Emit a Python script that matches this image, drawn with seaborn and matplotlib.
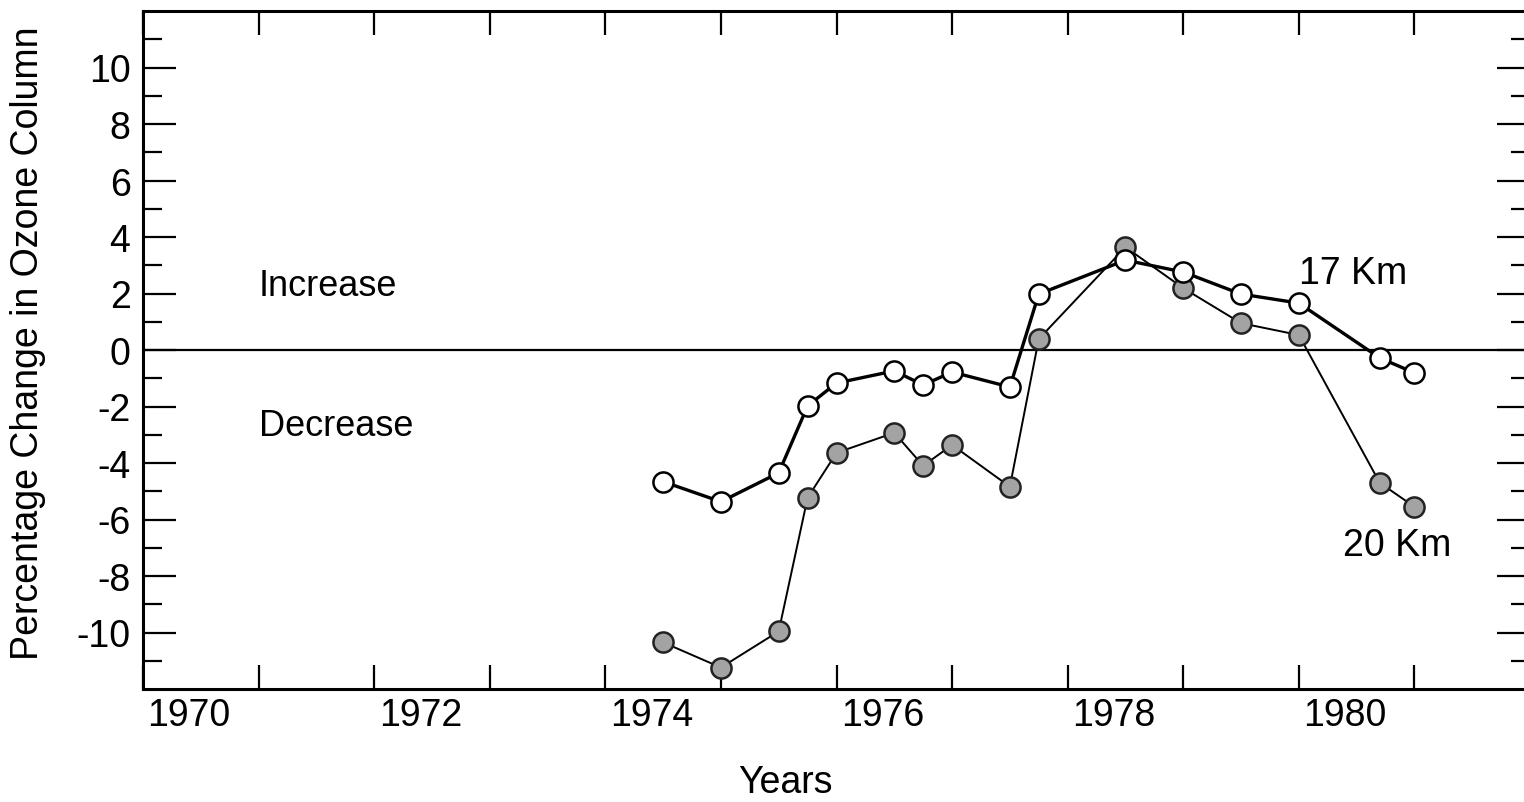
import numpy as np
import pandas as pd
import matplotlib
matplotlib.use("Agg")
import matplotlib.pyplot as plt
import seaborn as sns


# Sampling times (years) shared by both altitude series
YEARS = [1974.5, 1975.0, 1975.5, 1975.75, 1976.0, 1976.5, 1976.75, 1977.0,
         1977.5, 1977.75, 1978.5, 1979.0, 1979.5, 1980.0, 1980.7, 1981.0]

# Percentage change in ozone column, 17 km (open circles)
CHANGE_17KM = [-4.66, -5.37, -4.35, -1.98, -1.17, -0.74, -1.24, -0.78,
               -1.31, 1.98, 3.18, 2.76, 1.98, 1.66, -0.28, -0.81]

# Percentage change in ozone column, 20 km (filled circles)
CHANGE_20KM = [-10.35, -11.24, -9.96, -5.23, -3.64, -2.93, -4.10, -3.36,
               -4.84, 0.39, 3.64, 2.19, 0.95, 0.53, -4.70, -5.55]

YEAR_LABELS = [1970, 1972, 1974, 1976, 1978, 1980]
Y_LABELS = [-10, -8, -6, -4, -2, 0, 2, 4, 6, 8, 10]

FONT_SIZE = 27


def main():
    sns.set_style("ticks")
    plt.rcParams["font.family"] = ["Liberation Sans", "DejaVu Sans"]
    plt.rcParams["text.color"] = "black"
    plt.rcParams["xtick.color"] = "black"
    plt.rcParams["ytick.color"] = "black"
    plt.rcParams["axes.labelcolor"] = "black"

    df = pd.DataFrame({
        "year": YEARS,
        "17 Km": CHANGE_17KM,
        "20 Km": CHANGE_20KM,
    })

    fig = plt.figure(figsize=(15.24, 8.03), dpi=100)
    ax = fig.add_axes([143 / 1524, 113 / 803, 1387 / 1524, 678 / 803])

    ax.axhline(0, color="black", lw=1.6, zorder=1)

    # 20 km: stippled (grey) dots, thinner line
    sns.lineplot(data=df, x="year", y="20 Km", ax=ax, color="black", lw=1.4,
                 marker="o", markersize=14.5, markerfacecolor="#a3a3a3",
                 markeredgecolor="#222222", markeredgewidth=1.8, zorder=3)
    # 17 km: open circles
    sns.lineplot(data=df, x="year", y="17 Km", ax=ax, color="black", lw=2.4,
                 marker="o", markersize=14.5, markerfacecolor="white",
                 markeredgecolor="black", markeredgewidth=1.8, zorder=4)

    ax.set_xlim(1970, 1982)
    ax.set_ylim(-12, 12)

    # yearly ticks without labels, labels sit just right of their year tick
    ax.set_xticks(np.arange(1970, 1983, 1), minor=True)
    ax.set_xticks([y + 0.40 for y in YEAR_LABELS])
    ax.set_xticklabels([str(y) for y in YEAR_LABELS])
    ax.set_yticks(Y_LABELS)
    ax.set_yticklabels([f"{v:d}" for v in Y_LABELS])
    ax.set_yticks(np.arange(-11, 12, 2), minor=True)

    ax.tick_params(axis="x", which="major", length=0, pad=6,
                   labelsize=FONT_SIZE, top=False, bottom=False,
                   labelcolor="black")
    ax.tick_params(axis="x", which="minor", length=17, width=1.6,
                   direction="in", top=True, bottom=True, color="black")
    ax.tick_params(axis="y", which="major", length=24, width=1.6, pad=9,
                   direction="in", left=True, right=True, labelsize=FONT_SIZE,
                   color="black", labelcolor="black")
    ax.tick_params(axis="y", which="minor", length=14, width=1.6,
                   direction="in", left=True, right=True, color="black")

    for side in ["left", "bottom", "top"]:
        ax.spines[side].set_linewidth(2.2)
        ax.spines[side].set_color("black")
    ax.spines["right"].set_visible(False)

    ax.set_xlabel("")
    ax.set_ylabel("")

    ax.text(1971.0, 1.94, "Increase", fontsize=FONT_SIZE - 1, va="baseline")
    ax.text(1971.0, -3.0, "Decrease", fontsize=FONT_SIZE - 1, va="baseline")
    ax.text(1980.0, 2.37, "17 Km", fontsize=FONT_SIZE, va="baseline")
    ax.text(1980.38, -7.24, "20 Km", fontsize=FONT_SIZE, va="baseline")

    fig.text(785 / 1524, 10 / 803, "Years", fontsize=FONT_SIZE,
             ha="center", va="baseline")
    fig.text(10 / 1524, (803 - 343) / 803, "Percentage Change in Ozone Column",
             fontsize=FONT_SIZE, rotation=90, ha="left", va="center")

    fig.savefig("out.png", dpi=100)
    plt.close(fig)


if __name__ == "__main__":
    main()
